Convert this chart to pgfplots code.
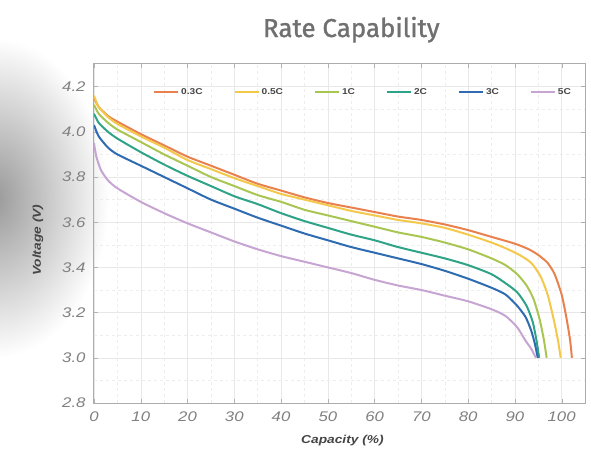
\documentclass[border=0pt]{standalone}
\usepackage{fontspec}
\setmainfont{Liberation Sans}
\newfontfamily\widefont[FakeStretch=1.2]{Liberation Sans}
\newfontfamily\titlefont[FakeBold=1.2]{Fira Sans}
\usepackage{pgfplots}
\pgfplotsset{compat=1.18}

\definecolor{c03}{HTML}{E9814E}
\definecolor{c05}{HTML}{F4C84A}
\definecolor{c1}{HTML}{A9C653}
\definecolor{c2}{HTML}{2FA387}
\definecolor{c3}{HTML}{2E6BB0}
\definecolor{c5}{HTML}{C7A5D3}
\definecolor{tickgray}{HTML}{808080}
\definecolor{labgray}{HTML}{454545}

\begin{document}
\begin{tikzpicture}
% picture frame: axis box at (0,0)-(491,339), page 591x462
\useasboundingbox (-94bp,-59bp) rectangle (497bp,403bp);
% soft grey shadow on the left
\shade[inner color=gray!80, outer color=white] (-100bp,205bp) ellipse [x radius=115bp, y radius=160bp];
\begin{axis}[
    scale only axis,
    width=491bp, height=339bp,
    xmin=0, xmax=105, ymin=2.8, ymax=4.3,
    xtick={0,10,20,30,40,50,60,70,80,90,100},
    ytick={2.8,3.0,3.2,3.4,3.6,3.8,4.0,4.2},
    minor x tick num=1, minor y tick num=1,
    grid=both,
    major grid style={draw=gray!18},
    minor grid style={draw=gray!14, dashed},
    axis line style={draw=gray!65, line width=1bp},
    tick style={draw=gray!60},
    major tick length=4bp, minor tick length=0pt,
    tick align=inside,
    /pgf/number format/assume math mode=true,
    yticklabel style={/pgf/number format/fixed, /pgf/number format/fixed zerofill, /pgf/number format/precision=1},
    tick label style={font=\widefont\itshape\fontsize{14}{14}\selectfont, text=tickgray},
    xticklabel style={yshift=-5bp},
    yticklabel style={xshift=-5bp},
    xlabel={Capacity (\%)},
    ylabel={Voltage (V)},
    xlabel style={at={(rel axis cs:0.506,-0.112)}, anchor=center, font=\widefont\bfseries\itshape\fontsize{11.5}{11.5}\selectfont, text=labgray},
    ylabel style={at={(rel axis cs:-0.114,0.48)}, anchor=center, font=\widefont\bfseries\itshape\fontsize{11.5}{11.5}\selectfont, text=labgray},
    title={Rate Capability},
    title style={at={(rel axis cs:0.524,1.062)}, anchor=base, font=\titlefont\fontsize{26}{26}\selectfont, text=gray!40!black!70},
    legend columns=6,
    legend style={at={(rel axis cs:0.548,0.917)}, anchor=center, draw=none, fill=none,
        font=\widefont\bfseries\fontsize{8.5}{8.5}\selectfont, text=labgray,
        /tikz/every even column/.append style={column sep=29bp}},
    legend image code/.code={\draw[#1] (0bp,0bp) -- (24bp,0bp);},
    every axis plot/.append style={line width=2bp, line join=round, smooth, tension=0.4},
]
\addplot[c03] coordinates {
(0,4.15) (1,4.11) (3,4.07) (5,4.045) (10,3.99) (15,3.94) (20,3.89) (25,3.85) (30,3.81)
(35,3.77) (40,3.74) (45,3.71) (50,3.685) (55,3.665) (60,3.645) (65,3.625) (70,3.61)
(75,3.59) (80,3.565) (85,3.535) (90,3.505) (93,3.48) (95,3.455) (97,3.42) (98.5,3.37)
(100,3.28) (101,3.18) (101.8,3.08) (102.2,3.0)};
\addplot[c05] coordinates {
(0,4.16) (1,4.11) (3,4.065) (5,4.035) (10,3.98) (15,3.93) (20,3.875) (25,3.835) (30,3.795)
(35,3.76) (40,3.725) (45,3.70) (50,3.675) (55,3.65) (60,3.63) (65,3.61) (70,3.595)
(75,3.575) (80,3.545) (85,3.51) (88,3.485) (91,3.455) (93.5,3.42) (95.5,3.36) (97,3.28)
(98.3,3.17) (99.2,3.08) (99.8,3.0)};
\addplot[c1] coordinates {
(0,4.12) (1,4.08) (3,4.04) (5,4.01) (10,3.955) (15,3.90) (20,3.85) (25,3.80) (30,3.76)
(35,3.72) (40,3.69) (45,3.655) (50,3.63) (55,3.605) (60,3.58) (65,3.555) (70,3.535)
(75,3.51) (80,3.48) (85,3.44) (88,3.41) (90.5,3.37) (92.5,3.32) (94,3.26) (95.3,3.17)
(96.2,3.08) (96.8,3.0)};
\addplot[c2] coordinates {
(0,4.08) (1,4.04) (3,4.00) (5,3.97) (10,3.91) (15,3.855) (20,3.805) (25,3.76) (30,3.715)
(35,3.68) (40,3.64) (45,3.605) (50,3.575) (55,3.545) (60,3.52) (65,3.49) (70,3.465)
(75,3.44) (80,3.41) (85,3.37) (88,3.33) (90.5,3.29) (92.5,3.23) (93.8,3.16) (94.6,3.08)
(95.2,3.0)};
\addplot[c3] coordinates {
(0,4.03) (1,3.98) (3,3.93) (5,3.90) (10,3.85) (15,3.80) (20,3.75) (25,3.70) (30,3.66)
(35,3.62) (40,3.585) (45,3.55) (50,3.52) (55,3.49) (60,3.465) (65,3.44) (70,3.415)
(75,3.385) (80,3.35) (85,3.31) (88,3.28) (90.5,3.23) (92.3,3.18) (93.5,3.12) (94.3,3.06)
(94.9,3.0)};
\addplot[c5] coordinates {
(0,3.95) (0.5,3.89) (1.5,3.83) (3,3.785) (5,3.75) (10,3.69) (15,3.64) (20,3.595) (25,3.555)
(30,3.515) (35,3.48) (40,3.45) (45,3.425) (50,3.40) (55,3.375) (60,3.345) (65,3.32)
(70,3.30) (75,3.275) (80,3.25) (85,3.215) (88,3.185) (90.5,3.135) (92.3,3.075) (93.5,3.04)
(94.5,3.0)};
\legend{0.3C, 0.5C, 1C, 2C, 3C, 5C}
\end{axis}
\end{tikzpicture}
\end{document}
